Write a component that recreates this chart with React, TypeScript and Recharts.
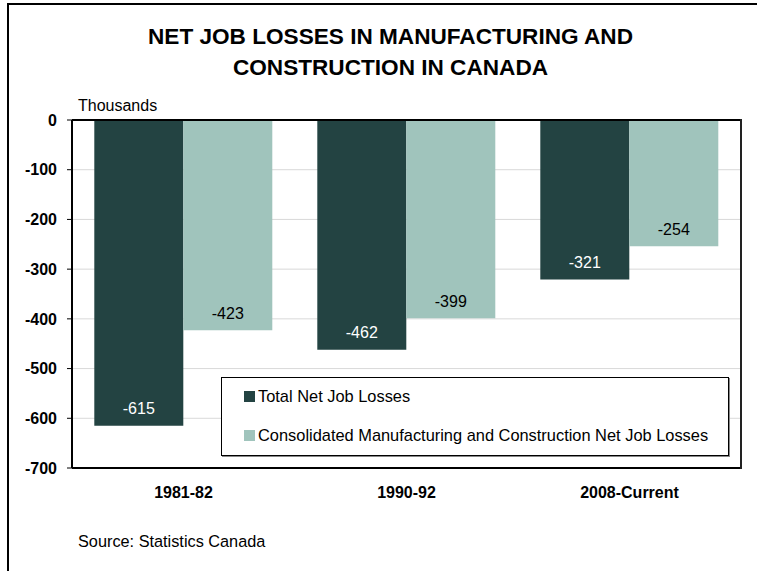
import {
  BarChart,
  Bar,
  XAxis,
  YAxis,
  CartesianGrid,
  ReferenceLine,
  LabelList,
} from 'recharts';

const periods = ['1981-82', '1990-92', '2008-Current'];
const totalLosses = [-615, -462, -321];
const consolidatedLosses = [-423, -399, -254];
const yTicks = [0, -100, -200, -300, -400, -500, -600, -700];
const seriesNames = [
  'Total Net Job Losses',
  'Consolidated Manufacturing and Construction Net Job Losses',
];
const seriesColors = ['#234342', '#A0C4BC'];

const chartData = periods.map((period, i) => ({
  period,
  total: totalLosses[i],
  consolidated: consolidatedLosses[i],
}));

const FONT = '"Liberation Sans", Arial, sans-serif';

// label sits just above the bottom end of each (negative) bar
const makeLabel = (color: string) => (props: any) => {
  const { x, y, width, height, value } = props;
  const bottom = Math.max(Number(y), Number(y) + Number(height));
  return (
    <text
      x={Number(x) + Number(width) / 2}
      y={bottom - 17}
      fill={color}
      fontSize={16}
      fontFamily={FONT}
      textAnchor="middle"
      dominantBaseline="central"
    >
      {value}
    </text>
  );
};

export default function App() {
  return (
    <div
      style={{
        position: 'absolute',
        left: 0,
        top: 0,
        width: 757,
        height: 571,
        background: '#fff',
        fontFamily: FONT,
        overflow: 'hidden',
      }}
    >
      {/* outer frame */}
      <div
        style={{
          position: 'absolute',
          left: 7,
          top: 3,
          width: 760,
          height: 600,
          borderLeft: '2px solid #000',
          borderTop: '2px solid #000',
        }}
      />
      <div
        style={{
          position: 'absolute',
          left: 0,
          top: 21,
          width: 781,
          textAlign: 'center',
          fontWeight: 'bold',
          fontSize: 22.6,
          lineHeight: '31px',
          color: '#000',
        }}
      >
        NET JOB LOSSES IN MANUFACTURING AND
        <br />
        CONSTRUCTION IN CANADA
      </div>
      <div style={{ position: 'absolute', left: 78, top: 97, fontSize: 16 }}>
        Thousands
      </div>
      <div style={{ position: 'absolute', left: 78, top: 532, fontSize: 16.3 }}>
        Source: Statistics Canada
      </div>

      <div style={{ position: 'absolute', left: 0, top: 0 }}>
        <BarChart
          width={757}
          height={571}
          data={chartData}
          margin={{ top: 120, right: 16, bottom: 73, left: 8 }}
          barCategoryGap="10%"
          barGap={0}
        >
          <CartesianGrid vertical={false} stroke="#d9d9d9" strokeWidth={1} />
          <XAxis
            dataKey="period"
            height={30}
            axisLine={{ stroke: '#000', strokeWidth: 2 }}
            tickLine={false}
            tick={{ fill: '#000', fontSize: 16, fontWeight: 'bold', fontFamily: FONT }}
            dy={11}
          />
          <YAxis
            width={64}
            domain={[-700, 0]}
            ticks={yTicks}
            interval={0}
            axisLine={{ stroke: '#000', strokeWidth: 2 }}
            tickLine={{ stroke: '#000', strokeWidth: 1 }}
            tickSize={5}
            dx={-8}
            tick={{ fill: '#000', fontSize: 16, fontWeight: 'bold', fontFamily: FONT }}
          />
          <ReferenceLine y={0} stroke="#000" strokeWidth={2} />
          <Bar dataKey="total" fill={seriesColors[0]} isAnimationActive={false}>
            <LabelList dataKey="total" content={makeLabel('#fff')} />
          </Bar>
          <Bar dataKey="consolidated" fill={seriesColors[1]} isAnimationActive={false}>
            <LabelList dataKey="consolidated" content={makeLabel('#000')} />
          </Bar>
        </BarChart>
      </div>

      {/* right edge of plot frame */}
      <div
        style={{
          position: 'absolute',
          left: 740,
          top: 119,
          width: 2,
          height: 350,
          background: '#222',
        }}
      />

      {/* legend */}
      <div
        style={{
          position: 'absolute',
          left: 221,
          top: 377,
          width: 506,
          height: 77,
          border: '1px solid #000',
          boxShadow: '1px 1px 0 #888',
          background: '#fff',
          fontSize: 16.4,
        }}
      >
        {seriesNames.map((name, i) => (
          <div
            key={name}
            style={{
              position: 'absolute',
              left: 22,
              top: 9 + i * 39,
              display: 'flex',
              alignItems: 'center',
              whiteSpace: 'nowrap',
            }}
          >
            <span
              style={{
                display: 'inline-block',
                width: 11,
                height: 11,
                background: seriesColors[i],
                marginRight: 3,
              }}
            />
            {name}
          </div>
        ))}
      </div>
    </div>
  );
}
